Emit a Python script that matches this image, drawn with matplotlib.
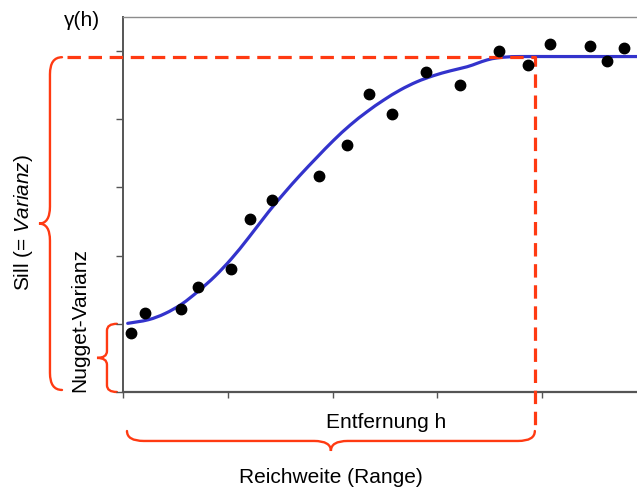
import matplotlib
matplotlib.use("Agg")
import matplotlib.pyplot as plt
from matplotlib.path import Path
from matplotlib.patches import PathPatch

plt.rcParams['font.family'] = ['Liberation Sans', 'DejaVu Sans']
plt.rcParams['mathtext.fontset'] = 'custom'
plt.rcParams['mathtext.rm'] = 'Liberation Sans'
plt.rcParams['mathtext.it'] = 'Liberation Sans:italic'

# Observed semivariance points
obs_h = [0.076, 0.207, 0.554, 0.713, 1.034, 1.21, 1.426, 1.875, 2.133, 2.35,
         2.567, 2.894, 3.212, 3.586, 3.865, 4.072, 4.454, 4.623, 4.78]
obs_g = [0.865, 1.163, 1.213, 1.54, 1.80, 2.54, 2.82, 3.17, 3.63, 4.37,
         4.07, 4.70, 4.50, 5.00, 4.79, 5.10, 5.08, 4.86, 5.04]

# Fitted model curve
fit_h = [0.045, 0.242, 0.40, 0.561, 0.719, 0.879, 1.038, 1.197, 1.388, 1.54, 1.69,
         1.85, 2.009, 2.168, 2.328, 2.486, 2.646, 2.805, 2.964, 3.123,
         3.283, 3.378, 3.474, 3.569, 3.68, 3.79, 4.2, 4.92]
fit_g = [1.007, 1.06, 1.15, 1.29, 1.48, 1.70, 1.96, 2.26, 2.64, 2.92, 3.18,
         3.44, 3.69, 3.915, 4.11, 4.28, 4.43, 4.55, 4.64, 4.71,
         4.77, 4.82, 4.87, 4.90, 4.915, 4.92, 4.92, 4.92]

nugget = 1.0
sill = 4.91
reach = 3.93

x_ticks = [0, 1, 2, 3, 4]
y_ticks = [0, 1, 2, 3, 4, 5]

RED = '#ff3a12'
BLUE = '#3333cc'

fig = plt.figure(figsize=(6.37, 4.92), dpi=100)
ax = fig.add_axes([123 / 637, 100 / 492, 1 - 123 / 637, 375 / 492])
ax.set_xlim(0, 4.905)
ax.set_ylim(0, 5.50)

ax.spines['right'].set_visible(False)
ax.spines['top'].set_color('#8c8c8c')
ax.spines['top'].set_linewidth(1.0)
ax.spines['left'].set_color('#555555')
ax.spines['left'].set_linewidth(1.4)
ax.spines['bottom'].set_color('#555555')
ax.spines['bottom'].set_linewidth(1.6)

ax.set_xticks(x_ticks)
ax.set_yticks(y_ticks)
ax.set_xticklabels([])
ax.set_yticklabels([])
ax.tick_params(axis='y', direction='out', length=5, width=1.0, color='#555555')
ax.tick_params(axis='x', direction='out', length=4, width=1.0, color='#555555')


def smooth_path(xs, ys):
    # Catmull-Rom through the read points, drawn as cubic Bezier segments
    pts = list(zip(xs, ys))
    verts = [pts[0]]
    codes = [Path.MOVETO]
    n = len(pts)
    for i in range(n - 1):
        p0 = pts[i - 1] if i > 0 else pts[i]
        p1 = pts[i]
        p2 = pts[i + 1]
        p3 = pts[i + 2] if i + 2 < n else pts[i + 1]
        c1 = (p1[0] + (p2[0] - p0[0]) / 6, p1[1] + (p2[1] - p0[1]) / 6)
        c2 = (p2[0] - (p3[0] - p1[0]) / 6, p2[1] - (p3[1] - p1[1]) / 6)
        verts += [c1, c2, p2]
        codes += [Path.CURVE4, Path.CURVE4, Path.CURVE4]
    return Path(verts, codes)


ax.add_patch(PathPatch(smooth_path(fit_h, fit_g), fill=False, edgecolor=BLUE,
                       lw=2.3, zorder=3, clip_on=False, capstyle='round'))

# dashed sill / range line
ax.plot([-0.53, reach, reach], [sill, sill, -0.57], color=RED, lw=2.3,
        linestyle=(0, (4.2, 2.4)), clip_on=False, zorder=4)

ax.plot(obs_h, obs_g, 'o', color='black', markersize=7.5, zorder=5, clip_on=False)


def vbrace(xb, y0, y1, w, t, r, lw=1.7):
    ym = (y0 + y1) / 2
    verts = [(xb + w, y1), (xb, y1), (xb, y1 - r),
             (xb, ym + r), (xb, ym), (xb - t, ym),
             (xb, ym), (xb, ym - r),
             (xb, y0 + r), (xb, y0), (xb + w, y0)]
    codes = [Path.MOVETO, Path.CURVE3, Path.CURVE3,
             Path.LINETO, Path.CURVE3, Path.CURVE3,
             Path.CURVE3, Path.CURVE3,
             Path.LINETO, Path.CURVE3, Path.CURVE3]
    ax.add_patch(PathPatch(Path(verts, codes), fill=False, edgecolor=RED, lw=lw,
                           clip_on=False, capstyle='round'))


def hbrace(yb, x0, x1, w, t, r, lw=1.7):
    xm = (x0 + x1) / 2
    verts = [(x0, yb + w), (x0, yb), (x0 + r, yb),
             (xm - r, yb), (xm, yb), (xm, yb - t),
             (xm, yb), (xm + r, yb),
             (x1 - r, yb), (x1, yb), (x1, yb + w)]
    codes = [Path.MOVETO, Path.CURVE3, Path.CURVE3,
             Path.LINETO, Path.CURVE3, Path.CURVE3,
             Path.CURVE3, Path.CURVE3,
             Path.LINETO, Path.CURVE3, Path.CURVE3]
    ax.add_patch(PathPatch(Path(verts, codes), fill=False, edgecolor=RED, lw=lw,
                           clip_on=False, capstyle='round'))


# Sill brace
vbrace(-0.697, 0.03, sill, 0.115, 0.105, 0.25)
# Nugget brace
vbrace(-0.153, 0.0, nugget, 0.095, 0.095, 0.1)
# Range brace
hbrace(-0.718, 0.038, reach, 0.146, 0.147, 0.16)

ax.text(-0.39, 5.37, 'γ(h)', fontsize=15, ha='center', va='baseline', clip_on=False)
ax.text(2.51, -0.528, 'Entfernung h', fontsize=15, ha='center', va='baseline', clip_on=False)
ax.text(1.985, -1.334, 'Reichweite (Range)', fontsize=15, ha='center', va='baseline', clip_on=False)
ax.text(-0.945, 2.49, 'Sill (= $\\mathit{Varianz}$)', fontsize=15, rotation=90,
        ha='center', va='center', clip_on=False)
ax.text(-0.41, 1.056, 'Nugget-Varianz', fontsize=15, rotation=90,
        ha='center', va='center', clip_on=False)

fig.savefig('out.png', dpi=100)
